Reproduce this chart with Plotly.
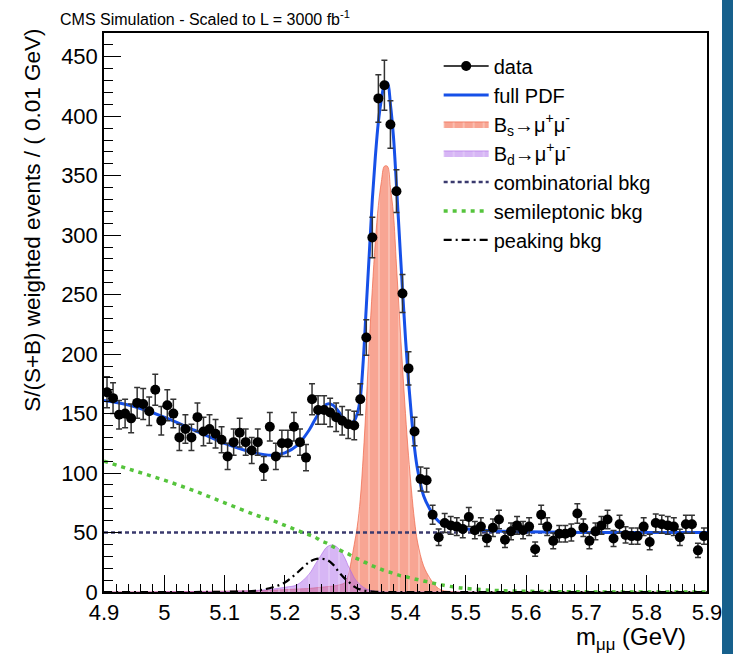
import plotly.graph_objects as go

# ---------------- data ----------------
bin_centers = [round(4.905 + 0.01 * i, 3) for i in range(100)]

data_values = [168, 163, 149, 150, 146, 159, 158, 152, 170, 144,
               157, 150, 130, 137, 130, 147, 135, 137, 133, 128,
               114, 126, 134, 126, 119, 126, 104, 139, 114, 125,
               125, 139, 126, 113, 162, 153, 153, 151, 147, 144,
               141, 140, 162, 214, 298, 415, 426, 393, 337, 251,
               188, 135, 95, 94, 65, 46, 58, 56, 55, 53,
               63, 52, 55, 45, 54, 61, 44, 51, 56, 52,
               55, 36, 65, 55, 43, 49, 49, 50, 66, 54,
               43, 51, 56, 61, 45, 57, 48, 47, 47, 55,
               42, 58, 57, 56, 55, 46, 57, 57, 35, 47]

data_errors = [13, 13, 12, 12, 12, 13, 13, 12, 13, 12,
               13, 12, 11, 12, 11, 12, 12, 12, 12, 11,
               11, 11, 12, 11, 11, 11, 10, 12, 11, 11,
               11, 12, 11, 11, 13, 12, 12, 12, 12, 12,
               12, 12, 13, 15, 17, 20, 21, 20, 18, 16,
               14, 12, 10, 10, 8, 7, 8, 7.5, 7.4, 7.3,
               8, 7.2, 7.4, 6.7, 7.3, 7.8, 6.6, 7.1, 7.5, 7.2,
               7.4, 6, 8, 7.4, 6.6, 7, 7, 7.1, 8.1, 7.3,
               6.6, 7.1, 7.5, 7.8, 6.7, 7.5, 6.9, 6.9, 6.9, 7.4,
               6.5, 7.6, 7.5, 7.5, 7.4, 6.8, 7.5, 7.5, 5.9, 6.9]

curve_x = [4.90, 4.95, 5.00, 5.05, 5.10, 5.15, 5.18, 5.20, 5.22, 5.24,
           5.25, 5.26, 5.27, 5.28, 5.29, 5.30, 5.305, 5.31, 5.315, 5.32,
           5.325, 5.33, 5.335, 5.34, 5.345, 5.35, 5.355, 5.36, 5.365, 5.37,
           5.375, 5.38, 5.385, 5.39, 5.395, 5.40, 5.405, 5.41, 5.415, 5.42,
           5.43, 5.44, 5.45, 5.46, 5.48, 5.50, 5.55, 5.60, 5.70, 5.80, 5.90]

full_pdf = [161, 156, 147, 136, 125, 117, 115, 117, 123, 136,
            145, 153, 158, 157, 151, 144, 142, 142, 144, 150,
            163, 195, 240, 285, 330, 366, 395, 414, 426, 428,
            410, 383, 342, 298, 254, 213, 177, 147, 121, 103,
            81, 70, 62, 57.5, 54.5, 53, 51.3, 50.6, 50.1, 50, 50]

bs_signal = [0, 0, 0.2, 0.4, 0.6, 1, 1.5, 2, 2.5, 3,
             3.5, 4, 4.5, 5, 6, 8, 14, 26, 40, 55,
             78, 115, 160, 210, 255, 295, 325, 345, 358, 358,
             340, 318, 275, 232, 190, 150, 115, 85, 60, 42,
             22, 12, 5, 1.5, 0.3, 0, 0, 0, 0, 0, 0]

bd_signal = [0, 0, 0.2, 0.3, 0.5, 1.2, 2.5, 4, 6, 15,
             23, 31, 38, 39.5, 36, 28, 22, 17, 12, 8.5,
             6, 4, 2.5, 1.6, 1, 0.6, 0.3, 0.2, 0.1, 0,
             0, 0, 0, 0, 0, 0, 0, 0, 0, 0,
             0, 0, 0, 0, 0, 0, 0, 0, 0, 0, 0]

combinatorial_bkg = [50] * 51

semileptonic_bkg = [110, 102, 94, 85, 75, 65, 60, 56, 52, 48,
                    46, 43, 41, 38, 35.5, 33, 32, 30.5, 29, 28,
                    27, 25.5, 24.5, 23, 22, 21, 20, 19, 18, 17,
                    16.5, 15.5, 14.8, 14, 13.5, 13, 12.3, 11.7, 11, 10.5,
                    9.3, 8.2, 7, 6, 4.2, 3, 1.3, 0.6, 0.1, 0, 0]

peaking_bkg = [0, 0, 0, 0, 0.2, 1, 4, 8, 16, 25,
               27.5, 28, 27, 23, 16.5, 11, 9, 6.5, 4.5, 3,
               2.2, 1.4, 0.9, 0.6, 0.4, 0.2, 0.1, 0, 0, 0,
               0, 0, 0, 0, 0, 0, 0, 0, 0, 0,
               0, 0, 0, 0, 0, 0, 0, 0, 0, 0, 0]

x_tick_values = [4.9, 5.0, 5.1, 5.2, 5.3, 5.4, 5.5, 5.6, 5.7, 5.8, 5.9]
x_tick_labels = ["4.9", "5", "5.1", "5.2", "5.3", "5.4", "5.5", "5.6", "5.7", "5.8", "5.9"]
y_tick_values = [0, 50, 100, 150, 200, 250, 300, 350, 400, 450]

# ---------------- figure ----------------
FONT = "Liberation Sans, Arial, Helvetica, sans-serif"
fig = go.Figure()

fig.add_trace(go.Scatter(
    x=curve_x, y=bs_signal, mode="lines", line_shape="spline",
    fill="tozeroy", fillcolor="rgba(244,110,80,0.62)",
    fillpattern=dict(shape="|", fgcolor="white", fgopacity=0.45, size=10,
                     solidity=0.12, fillmode="overlay"),
    line=dict(width=1, color="rgba(240,100,70,0.7)"),
    name="B<sub>s</sub>→μ<sup>+</sup>μ<sup>-</sup>", legendrank=3))

fig.add_trace(go.Scatter(
    x=curve_x, y=bd_signal, mode="lines", line_shape="spline",
    fill="tozeroy", fillcolor="rgba(175,110,235,0.5)",
    fillpattern=dict(shape="|", fgcolor="white", fgopacity=0.35, size=10,
                     solidity=0.12, fillmode="overlay"),
    line=dict(width=1, color="rgba(170,100,230,0.6)"),
    name="B<sub>d</sub>→μ<sup>+</sup>μ<sup>-</sup>", legendrank=4))

fig.add_trace(go.Scatter(
    x=curve_x, y=combinatorial_bkg, mode="lines",
    line=dict(color="#3a3a6e", width=2.5, dash="4px,3px"),
    name="combinatorial bkg", legendrank=5))

fig.add_trace(go.Scatter(
    x=curve_x, y=semileptonic_bkg, mode="lines", line_shape="spline",
    line=dict(color="#55c43c", width=3.5, dash="4px,5px"),
    name="semileptonic bkg", legendrank=6))

fig.add_trace(go.Scatter(
    x=curve_x, y=peaking_bkg, mode="lines", line_shape="spline",
    line=dict(color="black", width=2.2, dash="8px,4px,2px,4px"),
    name="peaking bkg", legendrank=7))

fig.add_trace(go.Scatter(
    x=curve_x, y=full_pdf, mode="lines", line_shape="spline",
    line=dict(color="#1650e8", width=3),
    name="full PDF", legendrank=2))

fig.add_trace(go.Scatter(
    x=bin_centers, y=data_values, mode="markers",
    marker=dict(color="black", size=10),
    error_y=dict(type="data", array=data_errors, visible=True,
                 color="#333333", thickness=1.5, width=3),
    name="data", showlegend=False))

# legend entry for data (line + marker, ROOT style)
fig.add_trace(go.Scatter(
    x=[None], y=[None], mode="lines+markers",
    marker=dict(color="black", size=10), line=dict(color="black", width=1.5),
    name="data", legendrank=1))

fig.update_xaxes(
    range=[4.9, 5.9], tickmode="array", tickvals=x_tick_values, ticktext=x_tick_labels,
    ticks="inside", ticklen=17, tickwidth=1.2, tickcolor="black",
    minor=dict(ticks="inside", dtick=0.02, tick0=4.9, ticklen=8, tickwidth=1, tickcolor="black"),
    showline=True, linecolor="black", linewidth=1.5, mirror=True,
    showgrid=False, zeroline=False,
    tickfont=dict(family=FONT, size=22, color="black"))

fig.update_yaxes(
    range=[0, 470], tickmode="array", tickvals=y_tick_values,
    ticks="inside", ticklen=17, tickwidth=1.2, tickcolor="black",
    minor=dict(ticks="inside", dtick=10, tick0=0, ticklen=9, tickwidth=1, tickcolor="black"),
    showline=True, linecolor="black", linewidth=1.5, mirror=True,
    showgrid=False, zeroline=False,
    tickfont=dict(family=FONT, size=22, color="black"))

fig.update_layout(
    width=733, height=654,
    margin=dict(l=104, r=26, t=33, b=62, autoexpand=False),
    plot_bgcolor="white", paper_bgcolor="white",
    font=dict(family=FONT, color="black"),
    legend=dict(x=0.555, y=0.976, xanchor="left", yanchor="top",
                bgcolor="rgba(0,0,0,0)", borderwidth=0, itemwidth=45,
                font=dict(family=FONT, size=20, color="black"),
                tracegroupgap=0),
    annotations=[
        dict(text="CMS Simulation - Scaled to L = 3000 fb<sup>-1</sup>",
             xref="paper", yref="paper", x=-0.0763, y=1.027,
             xanchor="left", yanchor="middle", showarrow=False,
             font=dict(family=FONT, size=16, color="black")),
        dict(text="S/(S+B) weighted events / ( 0.01 GeV)",
             xref="paper", yref="paper", x=-0.1177, y=0.664,
             xanchor="center", yanchor="middle", textangle=-90, showarrow=False,
             font=dict(family=FONT, size=22.5, color="black")),
        dict(text="m<sub>μμ</sub> (GeV)",
             xref="paper", yref="paper", x=0.968, y=-0.084,
             xanchor="right", yanchor="middle", showarrow=False,
             font=dict(family=FONT, size=24, color="black")),
    ],
    shapes=[
        dict(type="rect", xref="paper", yref="paper",
             x0=1.0249, x1=1.05, y0=-0.2, y1=1.2,
             fillcolor="#17608c", line=dict(width=0), layer="above"),
    ],
)

fig.write_html("out.html", config={"displayModeBar": False},
               post_script="document.body.style.margin='0px';document.body.style.overflow='hidden';")
